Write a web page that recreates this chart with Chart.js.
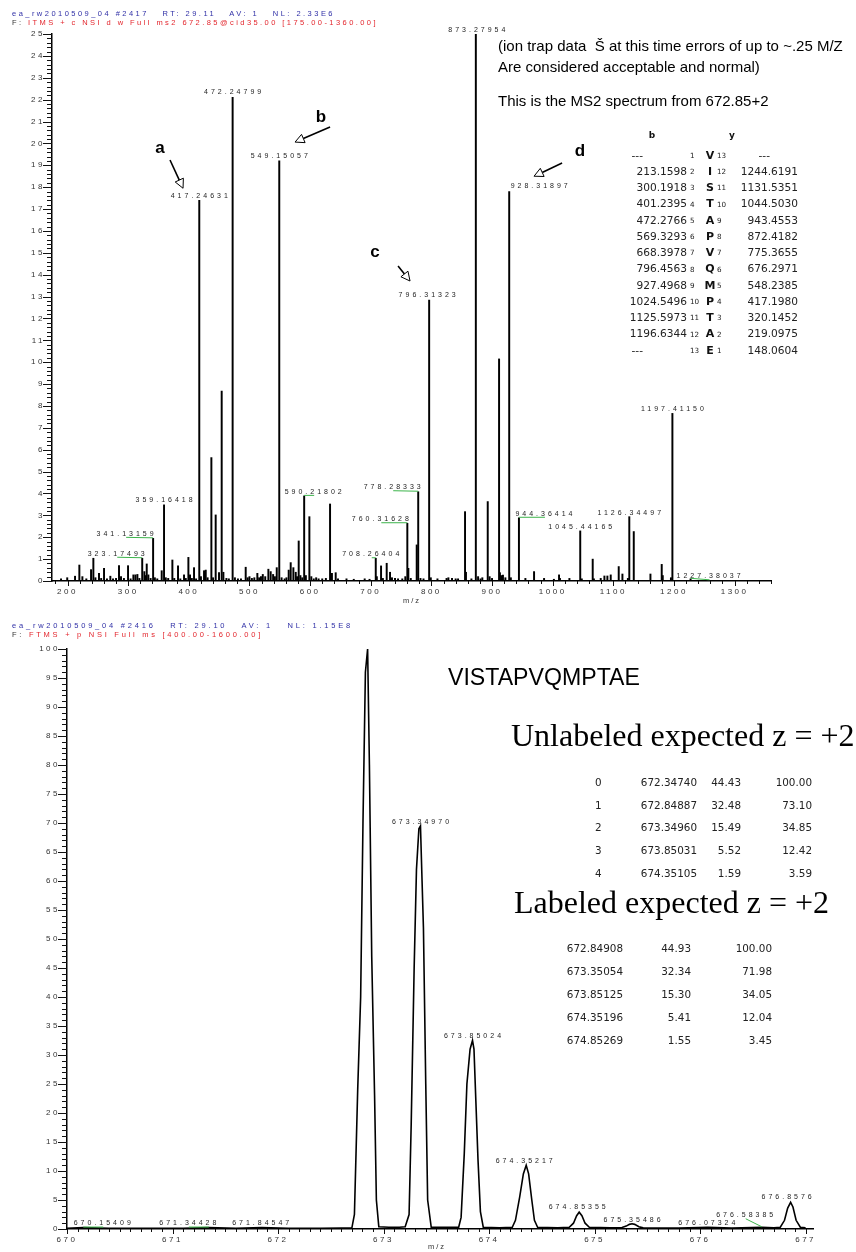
<!DOCTYPE html>
<html>
<head>
<meta charset="utf-8">
<script src="https://cdn.jsdelivr.net/npm/chart.js@4.4.1/dist/chart.umd.min.js"></script>
<style>
body { margin: 0; background: #fff; }
#page { position: relative; width: 856px; height: 1252px; overflow: hidden; font-family: 'Liberation Sans', Arial, sans-serif; }
canvas { position: absolute; left: 0; }
.t { position: absolute; white-space: pre; line-height: 1; }
</style>
</head>
<body>
<div id="page">
  <canvas id="ms2" width="856" height="612" style="top:0px"></canvas>
  <canvas id="ms1" width="856" height="640" style="top:612px"></canvas>
</div>
<script>
// ---------- top: ion trap MS2 stick spectrum ----------
const ms2Mz = [189.3, 199.5, 212.4, 219.5, 224.5, 231.0, 238.8, 242.6, 246.0, 251.9, 255.5, 260.2, 265.0, 270.6, 275.0,
  280.0, 284.9, 288.2, 293.0, 299.8, 304.0, 308.6, 311.9, 315.2, 318.5, 323.17, 326.7, 328.5, 330.6, 333.3, 337.0,
  341.13, 344.0, 348.0, 355.3, 359.16, 362.0, 366.0, 372.9, 376.0, 382.2, 386.0, 392.1, 395.0, 399.3, 402.0, 405.0,
  408.6, 412.0, 417.25, 420.0, 425.1, 427.9, 431.0, 437.2, 440.0, 444.3, 449.8, 454.2, 457.0, 462.0, 466.0, 472.25,
  476.0, 481.0, 486.0, 493.8, 497.0, 500.0, 504.0, 508.0, 513.0, 516.0, 519.0, 522.0, 526.0, 531.2, 535.0, 539.0,
  542.0, 545.0, 549.15, 553.0, 558.0, 561.0, 564.7, 568.0, 572.4, 576.3, 578.5, 581.2, 584.0, 587.0, 590.22, 593.0,
  598.8, 602.0, 606.0, 610.0, 614.0, 620.0, 626.0, 632.9, 636.0, 642.2, 646.0, 660.0, 672.0, 690.0, 698.0, 708.26,
  710.0, 717.0, 720.0, 726.3, 731.8, 735.0, 740.0, 745.0, 752.0, 757.0, 760.32, 762.0, 766.0, 775.8, 778.28, 782.0,
  787.0, 796.31, 799.0, 810.0, 825.0, 828.0, 834.0, 840.0, 844.0, 855.5, 857.0, 866.0, 873.28, 877.0, 881.0, 884.0,
  892.9, 896.0, 900.0, 911.6, 913.0, 915.0, 918.0, 922.0, 928.32, 931.0, 944.36, 955.0, 969.3, 985.8, 1002.0, 1010.5,
  1012.0, 1027.6, 1045.44, 1048.0, 1066.0, 1068.0, 1079.2, 1085.3, 1090.2, 1095.7, 1108.9, 1115.0, 1124.0, 1126.34,
  1133.7, 1161.2, 1179.8, 1181.5, 1195.0, 1197.41, 1227.38];
const ms2Int = [0.10, 0.15, 0.22, 0.73, 0.20, 0.10, 0.52, 1.04, 0.15, 0.35, 0.12, 0.58, 0.10, 0.22, 0.10,
  0.12, 0.70, 0.20, 0.12, 0.70, 0.10, 0.28, 0.28, 0.30, 0.12, 1.04, 0.43, 0.25, 0.78, 0.28, 0.12,
  1.95, 0.15, 0.10, 0.47, 3.48, 0.15, 0.12, 0.96, 0.12, 0.69, 0.10, 0.28, 0.12, 1.08, 0.28, 0.12,
  0.61, 0.10, 17.4, 0.20, 0.47, 0.50, 0.15, 5.64, 0.15, 3.02, 0.38, 8.68, 0.40, 0.12, 0.10, 22.1,
  0.15, 0.10, 0.10, 0.63, 0.15, 0.20, 0.12, 0.15, 0.35, 0.15, 0.20, 0.30, 0.20, 0.54, 0.43, 0.30,
  0.20, 0.61, 19.2, 0.15, 0.10, 0.15, 0.50, 0.84, 0.61, 0.40, 0.20, 1.83, 0.25, 0.15, 3.89, 0.25,
  2.94, 0.20, 0.10, 0.15, 0.10, 0.10, 0.12, 3.52, 0.35, 0.38, 0.10, 0.10, 0.08, 0.10, 0.08, 1.04,
  0.20, 0.69, 0.12, 0.81, 0.40, 0.15, 0.12, 0.10, 0.10, 0.20, 2.64, 0.58, 0.12, 1.65, 4.08, 0.12,
  0.10, 12.84, 0.15, 0.10, 0.12, 0.15, 0.12, 0.10, 0.10, 3.17, 0.40, 0.10, 25.0, 0.20, 0.10, 0.15,
  3.63, 0.20, 0.12, 10.15, 0.38, 0.25, 0.27, 0.15, 17.8, 0.15, 2.89, 0.12, 0.43, 0.12, 0.08, 0.28,
  0.12, 0.12, 2.29, 0.10, 1.00, 0.10, 0.12, 0.23, 0.23, 0.28, 0.66, 0.32, 0.12, 2.94,
  2.26, 0.32, 0.76, 0.25, 0.15, 7.66, 0.10];
const ms2Labels = ['323.17493', '341.13159', '359.16418', '417.24631', '472.24799', '549.15057', '590.21802',
  '708.26404', '760.31628', '778.28333', '796.31323', '873.27954', '928.31897', '944.36414', '1045.44165',
  '1126.34497', '1197.41150', '1227.38037'];
const ms2XTicks = [200, 300, 400, 500, 600, 700, 800, 900, 1000, 1100, 1200, 1300];
const ms2YTicks = [0, 1, 2, 3, 4, 5, 6, 7, 8, 9, 10, 11, 12, 13, 14, 15, 16, 17, 18, 19, 20, 21, 22, 23, 24, 25];

// fragment table (b / residue / y)
const fragB = ['---', '213.1598', '300.1918', '401.2395', '472.2766', '569.3293', '668.3978', '796.4563',
  '927.4968', '1024.5496', '1125.5973', '1196.6344', '---'];
const fragRes = ['V', 'I', 'S', 'T', 'A', 'P', 'V', 'Q', 'M', 'P', 'T', 'A', 'E'];
const fragY = ['---', '1244.6191', '1131.5351', '1044.5030', '943.4553', '872.4182', '775.3655', '676.2971',
  '548.2385', '417.1980', '320.1452', '219.0975', '148.0604'];

// ---------- bottom: FTMS full scan profile ----------
const ms1Mz = [670.00, 670.154, 670.40, 670.80, 671.10, 671.344, 671.60, 671.845, 672.10, 672.40, 672.60,
  672.700, 672.724, 672.755, 672.783, 672.805, 672.828, 672.849, 672.866, 672.888, 672.915, 672.932, 672.955,
  673.05, 673.15, 673.205, 673.242, 673.262, 673.290, 673.312, 673.335, 673.350, 673.365, 673.378, 673.400,
  673.418, 673.452, 673.60, 673.712, 673.735, 673.765, 673.790, 673.820, 673.843, 673.857, 673.875, 673.895,
  673.918, 673.945, 674.10, 674.22, 674.25, 674.29, 674.325, 674.352, 674.375, 674.405, 674.43, 674.46,
  674.65, 674.76, 674.80, 674.83, 674.854, 674.88, 674.91, 674.95, 675.15, 675.26, 675.30, 675.33, 675.355,
  675.38, 675.42, 675.46, 675.80, 676.073, 676.30, 676.584, 676.70, 676.76, 676.80, 676.83, 676.858,
  676.88, 676.91, 676.95, 677.00];
const ms1Int = [0.1, 0.25, 0.1, 0.1, 0.1, 0.25, 0.1, 0.25, 0.1, 0.1, 0.15,
  0.2, 2.5, 24, 40, 70, 96, 100, 80, 47, 23, 5, 0.4,
  0.3, 0.3, 0.4, 2.5, 18, 45, 62, 69, 69.5, 60, 52, 25,
  5, 0.3, 0.3, 0.3, 2, 13, 25, 31, 32.5, 31, 22, 12,
  3, 0.3, 0.2, 0.3, 1.5, 5.5, 9.5, 11, 9.5, 5, 1.5, 0.3,
  0.2, 0.3, 1.0, 2.3, 2.9, 2.3, 1.0, 0.3, 0.2, 0.25, 0.5, 0.8, 0.9,
  0.8, 0.4, 0.2, 0.15, 0.3, 0.15, 0.3, 0.2, 0.3, 1.5, 3.6, 4.6,
  3.8, 1.5, 0.3, 0.2];
const ms1Labels = ['670.15409', '671.34428', '671.84547', '673.34970', '673.85024', '674.35217', '674.85355',
  '675.35486', '676.07324', '676.58385', '676.8576'];
const ms1XTicks = [670, 671, 672, 673, 674, 675, 676, 677];
const ms1YTicks = [0, 5, 10, 15, 20, 25, 30, 35, 40, 45, 50, 55, 60, 65, 70, 75, 80, 85, 90, 95, 100];

// isotope tables
const unlabIdx = ['0', '1', '2', '3', '4'];
const unlabMz = ['672.34740', '672.84887', '673.34960', '673.85031', '674.35105'];
const unlabPct = ['44.43', '32.48', '15.49', '5.52', '1.59'];
const unlabRel = ['100.00', '73.10', '34.85', '12.42', '3.59'];
const labMz = ['672.84908', '673.35054', '673.85125', '674.35196', '674.85269'];
const labPct = ['44.93', '32.34', '15.30', '5.41', '1.55'];
const labRel = ['100.00', '71.98', '34.05', '12.04', '3.45'];

// label placement (px offsets from peak top) and leader line flag
const ms2LabelPos = [[-26, -4.5, 1], [-28, -4.5, 1], [0, -4.5, 0], [0, -4.5, 0], [0, -5, 0], [0, -5, 0], [9, -4, 1],
  [-5, -4, 1], [-27, -4, 1], [-26, -4.5, 1], [-2, -5, 0], [1, -4, 0], [30, -5, 0], [25, -4, 1], [0, -4, 0],
  [0, -4, 0], [0, -4.5, 0], [18, -2.5, 1]];
const ms1LabelPos = [[19, -4, 1], [-21, -4, 1], [-1, -4, 2], [0, -4, 0], [0, -4.5, 0], [-2, -4, 0], [-2, -5, 0],
  [0, -4, 0], [-1, -4, 0], [-17, -12, 1], [-4, -5, 0]];

function nearestIdx(arr, vals, m, win) {
  let best = -1;
  arr.forEach((v, k) => {
    if (Math.abs(v - m) <= win && (best < 0 || vals[k] > vals[best])) best = k;
  });
  if (best < 0) {
    best = 0;
    arr.forEach((v, k) => { if (Math.abs(v - m) < Math.abs(arr[best] - m)) best = k; });
  }
  return best;
}

const ms2Marks = ms2Labels.map((t, i) => {
  const j = nearestIdx(ms2Mz, ms2Int, parseFloat(t), 0.5);
  return { text: t, mz: ms2Mz[j], int: ms2Int[j], dx: ms2LabelPos[i][0], dy: ms2LabelPos[i][1], line: ms2LabelPos[i][2] };
});
const ms1Marks = ms1Labels.map((t, i) => {
  const j = nearestIdx(ms1Mz, ms1Int, parseFloat(t), 0.03);
  return { text: t, mz: ms1Mz[j], int: ms1Int[j], dx: ms1LabelPos[i][0], dy: ms1LabelPos[i][1], line: ms1LabelPos[i][2] };
});

const spectrumPlugin = {
  id: 'spectrum',
  beforeUpdate(chart, args, o) { chart.ctx.letterSpacing = o.tickSpacing; },
  beforeDraw(chart, args, o) { chart.ctx.letterSpacing = o.tickSpacing; },
  afterDraw(chart, args, o) {
    const ctx = chart.ctx, xs = chart.scales.x, ys = chart.scales.y, a = chart.chartArea, c = o.comb;
    ctx.save();
    ctx.strokeStyle = '#111';
    ctx.lineWidth = 1;
    ctx.beginPath();
    const ny = Math.round((ys.max - ys.min) / c.yMinor);
    for (let k = 0; k <= ny; k++) {
      const py = Math.round(ys.getPixelForValue(ys.min + k * c.yMinor)) + 0.5;
      const len = k % c.yEvery === 0 ? c.yMajorLen : c.yMinorLen;
      ctx.moveTo(a.left - len, py);
      ctx.lineTo(a.left, py);
    }
    const x0 = Math.ceil(xs.min / c.xMinor - 1e-6) * c.xMinor;
    const nx = Math.floor((xs.max - x0) / c.xMinor + 1e-6);
    for (let k = 0; k <= nx; k++) {
      const v = x0 + k * c.xMinor;
      const px = Math.round(xs.getPixelForValue(v)) + 0.5;
      const r = v / c.xMajor;
      const len = Math.abs(r - Math.round(r)) < 1e-6 ? c.xMajorLen : c.xMinorLen;
      ctx.moveTo(px, a.bottom);
      ctx.lineTo(px, a.bottom + len);
    }
    ctx.stroke();

    // peak labels
    const ls = parseFloat(o.labelSpacing);
    ctx.letterSpacing = o.labelSpacing;
    ctx.font = o.labelFont;
    ctx.textAlign = 'center';
    ctx.textBaseline = 'middle';
    o.marks.forEach(L => {
      const px = xs.getPixelForValue(L.mz), py = ys.getPixelForValue(L.int);
      const lx = px + L.dx, ly = py + L.dy;
      if (L.line) {
        ctx.strokeStyle = L.line === 1 ? '#3cb44b' : '#a0a0a0';
        ctx.beginPath();
        ctx.moveTo(lx + 1, ly + 3.5);
        ctx.lineTo(px, py - 0.5);
        ctx.stroke();
      }
      ctx.fillStyle = '#222';
      ctx.fillText(L.text, lx + ls / 2, ly);
    });

    // letter callouts with open arrows
    ctx.letterSpacing = '0px';
    (o.arrows || []).forEach(A => {
      ctx.font = 'bold 17px "Liberation Sans", Arial, sans-serif';
      ctx.fillStyle = '#000';
      ctx.fillText(A.t, xs.getPixelForValue(A.tx), ys.getPixelForValue(A.ty));
      const x1 = xs.getPixelForValue(A.x1), y1 = ys.getPixelForValue(A.y1);
      const x2 = xs.getPixelForValue(A.x2), y2 = ys.getPixelForValue(A.y2);
      const ang = Math.atan2(y2 - y1, x2 - x1), hl = 9, hw = 4.5;
      const bx = x2 - hl * Math.cos(ang), by = y2 - hl * Math.sin(ang);
      ctx.strokeStyle = '#000';
      ctx.lineWidth = 1.6;
      ctx.beginPath(); ctx.moveTo(x1, y1); ctx.lineTo(bx, by); ctx.stroke();
      ctx.lineWidth = 1;
      ctx.beginPath();
      ctx.moveTo(x2, y2);
      ctx.lineTo(bx + hw * Math.sin(ang), by - hw * Math.cos(ang));
      ctx.lineTo(bx - hw * Math.sin(ang), by + hw * Math.cos(ang));
      ctx.closePath();
      ctx.fillStyle = '#fff';
      ctx.fill();
      ctx.stroke();
    });
    ctx.restore();
  }
};

const tickFont = { family: "'Liberation Sans', Arial, sans-serif", size: 8 };

function axes(xMin, xMax, xTicks, yMax, yTicks, xH, yW) {
  return {
    x: {
      type: 'linear', min: xMin, max: xMax, offset: false,
      afterFit: s => { s.height = xH; },
      afterBuildTicks: s => { s.ticks = xTicks.map(v => ({ value: v })); },
      grid: { display: false, drawTicks: false, offset: false },
      border: { display: true, color: '#000', width: 1.5 },
      ticks: { font: tickFont, color: '#333', padding: 6, maxRotation: 0, autoSkip: false, callback: v => String(v) }
    },
    y: {
      type: 'linear', min: 0, max: yMax,
      afterFit: s => { s.width = yW; },
      afterBuildTicks: s => { s.ticks = yTicks.map(v => ({ value: v })); },
      grid: { display: false, drawTicks: false },
      border: { display: true, color: '#000', width: 1.5 },
      ticks: { font: tickFont, color: '#333', padding: 7, autoSkip: false, callback: v => String(v) }
    }
  };
}

new Chart(document.getElementById('ms2'), {
  type: 'bar',
  data: {
    datasets: [{
      data: ms2Mz.map((m, i) => ({ x: m, y: ms2Int[i] })),
      backgroundColor: '#000', borderWidth: 0, barThickness: 1.3
    }]
  },
  options: {
    responsive: false, animation: false,
    layout: { padding: { left: 0, top: 34, right: 85, bottom: 0 } },
    plugins: {
      legend: { display: false }, tooltip: { enabled: false },
      spectrum: {
        tickSpacing: '2.5px', labelSpacing: '3px', labelFont: '7px "Liberation Sans", Arial, sans-serif',
        comb: { yMinor: 0.2, yEvery: 5, yMajorLen: 9, yMinorLen: 5, xMinor: 20, xMajor: 100, xMajorLen: 5, xMinorLen: 3 },
        marks: ms2Marks,
        arrows: [
          { t: 'a', tx: 352.5, ty: 19.79, x1: 369, y1: 19.24, x2: 390.5, y2: 17.95 },
          { t: 'b', tx: 618, ty: 21.2, x1: 632.9, y1: 20.75, x2: 575.2, y2: 20.06 },
          { t: 'c', tx: 707, ty: 15.0, x1: 745, y1: 14.4, x2: 764.8, y2: 13.71 },
          { t: 'd', tx: 1045, ty: 19.65, x1: 1015.5, y1: 19.1, x2: 969.3, y2: 18.5 }
        ]
      }
    },
    scales: axes(174.4, 1360, ms2XTicks, 25, ms2YTicks, 31, 52)
  },
  plugins: [spectrumPlugin]
});

new Chart(document.getElementById('ms1'), {
  type: 'line',
  data: {
    datasets: [{
      data: ms1Mz.map((m, i) => ({ x: m, y: ms1Int[i] })),
      borderColor: '#000', borderWidth: 1.6, pointRadius: 0, tension: 0, fill: false
    }]
  },
  options: {
    responsive: false, animation: false,
    layout: { padding: { left: 0, top: 37, right: 43, bottom: 0 } },
    plugins: {
      legend: { display: false }, tooltip: { enabled: false },
      spectrum: {
        tickSpacing: '2.5px', labelSpacing: '3px', labelFont: '7px "Liberation Sans", Arial, sans-serif',
        comb: { yMinor: 1, yEvery: 5, yMajorLen: 9, yMinorLen: 5, xMinor: 0.1, xMajor: 1, xMajorLen: 5, xMinorLen: 3 },
        marks: ms1Marks
      }
    },
    scales: axes(670, 677.07, ms1XTicks, 100, ms1YTicks, 23, 67)
  },
  plugins: [spectrumPlugin]
});

// ---------- text overlays ----------
const page = document.getElementById('page');
// fit: 'ls' stretches letter spacing, 'font' scales the font size
function put(html, x, y, css, align, fitW, fit) {
  const el = document.createElement('div');
  el.className = 't';
  el.innerHTML = html;
  Object.assign(el.style, css || {});
  page.appendChild(el);
  if (fitW) {
    const w0 = el.getBoundingClientRect().width;
    if (fit === 'font') {
      el.style.fontSize = (parseFloat(getComputedStyle(el).fontSize) * fitW / w0) + 'px';
    } else {
      el.style.letterSpacing = ((fitW - w0) / el.textContent.length) + 'px';
    }
  }
  const r = el.getBoundingClientRect();
  const left = align === 'right' ? x - r.width : align === 'center' ? x - r.width / 2 : x;
  el.style.left = left + 'px';
  el.style.top = (y - r.height / 2) + 'px';
  return el;
}

const hdr = { fontSize: '7.5px', color: '#2f2fa6' };
const red = '<span style="color:#e3262d">';
put('ea_rw2010509_04 #2417   RT: 29.11   AV: 1   NL: 2.33E6', 12, 14, hdr, 'left', 323);
put('<span style="color:#333">F: </span>' + red + 'ITMS + c NSI d w Full ms2 672.85@cid35.00 [175.00-1360.00]</span>', 12, 23, hdr, 'left', 366);
put('ea_rw2010509_04 #2416   RT: 29.10   AV: 1   NL: 1.15E8', 12, 626, hdr, 'left', 341);
put('<span style="color:#333">F: </span>' + red + 'FTMS + p NSI Full ms [400.00-1600.00]</span>', 12, 635, hdr, 'left', 251);

put('m / z', 411, 601, { fontSize: '7.5px', color: '#333' }, 'center');
put('m / z', 436, 1247, { fontSize: '7.5px', color: '#333' }, 'center');

const note = { fontSize: '15px', color: '#000' };
put('(ion trap data  Š at this time errors of up to ~.25 M/Z', 498, 45, note, 'left');
put('Are considered acceptable and normal)', 498, 66, note, 'left');
put('This is the MS2 spectrum from 672.85+2', 498, 100, note, 'left');

const tbl = { fontFamily: "'DejaVu Sans', Verdana, sans-serif", fontSize: '10.6px', color: '#222' };
const tiny = { fontFamily: "'DejaVu Sans', Verdana, sans-serif", fontSize: '7.2px', color: '#222' };
const resF = { fontFamily: "'DejaVu Sans', Verdana, sans-serif", fontSize: '11px', fontWeight: 'bold', color: '#111' };
const hdF = { fontFamily: "'DejaVu Sans', Verdana, sans-serif", fontSize: '9px', fontWeight: 'bold', color: '#111' };
put('b', 652, 135, hdF, 'center');
put('y', 732, 135, hdF, 'center');
fragRes.forEach((res, i) => {
  const y = 155 + i * 16.25;
  if (fragB[i] === '---') put('---', 643, y, tbl, 'right'); else put(fragB[i], 687, y, tbl, 'right');
  put(String(i + 1), 690, y + 0.5, tiny, 'left');
  put(res, 710, y, resF, 'center');
  put(String(fragRes.length - i), 717, y + 0.5, tiny, 'left');
  if (fragY[i] === '---') put('---', 770, y, tbl, 'right'); else put(fragY[i], 798, y, tbl, 'right');
});

put('VISTAPVQMPTAE', 448, 678, { fontSize: '20px', color: '#000' }, 'left', 192, 'font');
const big = { fontFamily: "'Liberation Serif', 'Times New Roman', serif", fontSize: '32px', color: '#000' };
put('Unlabeled expected z = +2', 511, 735, big, 'left');
put('Labeled expected z = +2', 514, 902, big, 'left');

const tb2 = { fontFamily: "'DejaVu Sans', Verdana, sans-serif", fontSize: '10.4px', color: '#222' };
unlabMz.forEach((m, i) => {
  const y = 782 + i * 22.75;
  put(unlabIdx[i], 595, y, tb2, 'left');
  put(m, 697, y, tb2, 'right');
  put(unlabPct[i], 741, y, tb2, 'right');
  put(unlabRel[i], 812, y, tb2, 'right');
});
labMz.forEach((m, i) => {
  const y = 948 + i * 23;
  put(m, 623, y, tb2, 'right');
  put(labPct[i], 691, y, tb2, 'right');
  put(labRel[i], 772, y, tb2, 'right');
});
</script>
</body>
</html>
